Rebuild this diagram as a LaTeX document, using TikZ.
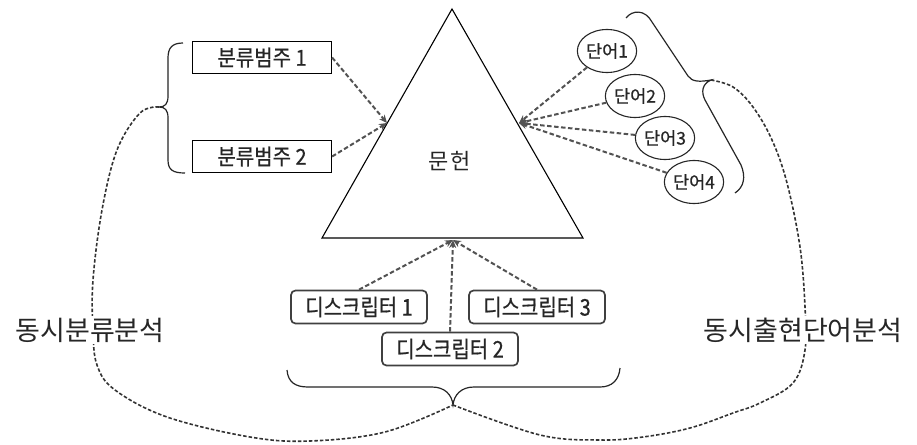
\documentclass[tikz,border=0pt]{standalone}
\usepackage{fontspec}
\setmainfont{Noto Sans CJK KR}
\newfontfamily\krb{Noto Sans CJK KR}[FakeBold=0.6]
\usetikzlibrary{arrows.meta,shapes.geometric}
\begin{document}
\begin{tikzpicture}[x=1pt,y=-1pt,
  catbox/.style={draw=black, line width=1.2pt, minimum width=139pt, minimum height=32pt, font=\krb\fontsize{20}{20}\selectfont, text=black!85, inner sep=0pt},
  descbox/.style={draw=black!75, line width=1.7pt, rounded corners=4.5pt, minimum width=136pt, minimum height=33pt, font=\krb\fontsize{20}{20}\selectfont, text=black!85, inner sep=0pt},
  wordnode/.style={ellipse, draw=black!85, line width=1.1pt, minimum width=52pt, minimum height=43pt, inner sep=0pt, font=\krb\fontsize{17.5}{17.5}\selectfont, text=black!85},
  dasharrow/.style={draw=black!68, line width=2pt, dash pattern=on 4.5pt off 2.5pt, -{Stealth[length=8pt,width=7pt,fill=black!68]}},
  bigcurve/.style={draw=black!80, line width=1.6pt, dash pattern=on 3.5pt off 2pt},
  bracepath/.style={draw=black!85, line width=1.2pt},
  biglabel/.style={font=\fontsize{27}{27}\selectfont, text=black!85, fill=white, inner sep=2pt}
]
\useasboundingbox[fill=white] (0,0) rectangle (917,444);

% triangle
\coordinate (apex) at (452,9);
\coordinate (bl) at (322,238);
\coordinate (br) at (583,238);
\draw[line width=1.1pt] (apex) -- (bl) -- (br) -- cycle;
\node[font=\fontsize{22}{22}\selectfont, text=black!85] (doc) at (450,161) {문\hspace{2pt}헌};
\coordinate (tL) at (387,123);
\coordinate (tR) at (519,123);
\coordinate (tB) at (453,240);

% category boxes
\node[catbox] (c1) at (262,57.5) {\scalebox{1}[1.1]{분류범주 1}};
\node[catbox] (c2) at (262,156.5) {\scalebox{1}[1.1]{분류범주 2}};

% descriptor boxes
\node[descbox] (d1) at (359,307) {\scalebox{1}[1.15]{디스크립터 1}};
\node[descbox] (d2) at (450,349) {\scalebox{1}[1.15]{디스크립터 2}};
\node[descbox] (d3) at (537,307) {\scalebox{1}[1.15]{디스크립터 3}};

% word ellipses
\node[wordnode] (w1) at (607,51) {단어1};
\node[wordnode] (w2) at (635,96) {단어2};
\node[wordnode] (w3) at (665,138) {단어3};
\node[wordnode] (w4) at (694,182) {단어4};

% arrows
\draw[dasharrow] (c1.east) -- (tL);
\draw[dasharrow] (c2.east) -- (tL);
\draw[dasharrow] (d1.north) -- (tB);
\draw[dasharrow] (d2.north) -- (tB);
\draw[dasharrow] (d3.north) -- (tB);
\draw[dasharrow] (w1) -- (tR);
\draw[dasharrow] (w2) -- (tR);
\draw[dasharrow] (w3) -- (tR);
\draw[dasharrow] (w4) -- (tR);

% braces
\coordinate (lbt) at (159,107);
\coordinate (bbt) at (453,405);
\coordinate (rbt) at (711,80);
\draw[bracepath] (183,43) .. controls (172,43) and (168,48) .. (168,58) -- (168,96)
  .. controls (168,104) and (165,107) .. (lbt)
  .. controls (165,107) and (168,110) .. (168,118) -- (168,160)
  .. controls (168,170) and (173,173) .. (185,173);
\draw[bracepath] (287,370) .. controls (288,382) and (295,387) .. (308,387) -- (432,387)
  .. controls (445,387) and (452,395) .. (bbt)
  .. controls (454,395) and (461,387) .. (474,387) -- (600,387)
  .. controls (612,387) and (619,380) .. (620,368);
\draw[bracepath] (626,18) .. controls (632,10) and (645,9) .. (652,22) -- (688,76)
  .. controls (692,82) and (700,82) .. (rbt)
  .. controls (702,84) and (701,92) .. (705,100) -- (741,165)
  .. controls (746,177) and (744,187) .. (735,193);

% big dashed curves
\draw[bigcurve] plot[smooth, tension=0.6] coordinates {(lbt) (140,113) (117,150) (102,210) (93,280) (93,330) (97,365) (115,390) (167,417) (250,437) (310,441) (385,432) (bbt)};
\draw[bigcurve] plot[smooth, tension=0.6] coordinates {(rbt) (733,87) (753,107) (772,140) (787,183) (800,247) (805,307) (805,350) (793,383) (760,403) (733,413) (690,428) (643,437) (600,440) (540,435) (bbt)};

% labels
\node[biglabel] (lab1) at (90,330) {동시분류분석};
\node[biglabel] (lab2) at (803,330) {동시출현단어분석};
\end{tikzpicture}
\end{document}
